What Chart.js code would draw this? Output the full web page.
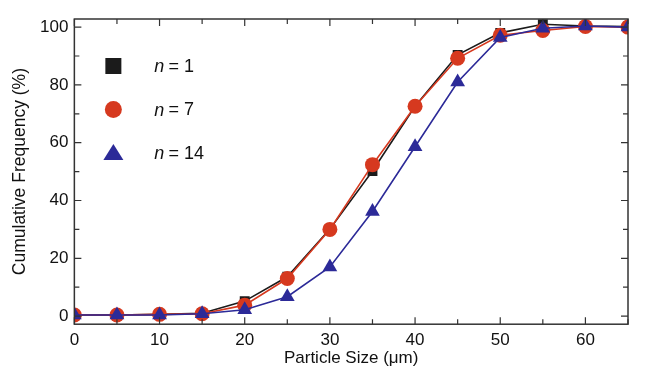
<!DOCTYPE html>
<html><head><meta charset="utf-8">
<script src="https://cdn.jsdelivr.net/npm/chart.js@4/dist/chart.umd.min.js"></script>
<style>html,body{margin:0;padding:0;background:#fff}#wrap{width:654px;height:380px}</style>
</head><body><div id="wrap"><canvas id="c" width="654" height="380"></canvas></div>
<script>
const sizes = [0,5,10,15,20,25,30,35,40,45,50,55,60,65];
const n1  = [0.4,0.4,0.6,1.0,5.2,13.6,30.1,50.2,72.6,90.4,98.0,101.0,100.4,100.2];
const n7  = [0.4,0.4,0.6,0.8,3.8,13.0,30.0,52.4,72.6,89.2,97.2,98.8,100.2,100.0];
const n14 = [0.4,0.4,0.4,0.8,2.2,6.7,17.0,36.2,58.6,81.0,96.4,99.6,100.4,100.0];
const labels = ['1','7','14'];
const yTicks = [0,20,40,60,80,100];
const xTicks = [0,10,20,30,40,50,60];

const colBlack = '#1b1b1b', colRed = '#d6391f', colBlue = '#2c2a98';
const FONT = '"Liberation Sans", Arial, Helvetica, sans-serif';

function mk(label, data, color, style, radius, order){
  return {label, data: sizes.map((x,i)=>({x, y:data[i]})), borderColor: color, backgroundColor: color,
    pointStyle: style, pointRadius: radius, pointHoverRadius: radius, borderWidth: 1.6,
    pointBorderWidth: 0, tension: 0, order};
}

const frame = {
  id:'frame',
  afterDraw(chart){
    const {ctx, chartArea:a, scales:{x,y}} = chart;
    ctx.save();
    ctx.strokeStyle = '#333'; ctx.lineWidth = 1.5;
    ctx.strokeRect(a.left, a.top, a.right-a.left, a.bottom-a.top);
    ctx.lineWidth = 1.2;
    for (let v=0; v<=65; v+=5){
      const px = x.getPixelForValue(v); const L = (v%10===0)?7:5;
      ctx.beginPath(); ctx.moveTo(px,a.bottom); ctx.lineTo(px,a.bottom-L);
      ctx.moveTo(px,a.top); ctx.lineTo(px,a.top+L); ctx.stroke();
    }
    for (let v=0; v<=100; v+=10){
      const py = y.getPixelForValue(v); const L = (v%20===0)?7:5;
      ctx.beginPath(); ctx.moveTo(a.left,py); ctx.lineTo(a.left+L,py);
      ctx.moveTo(a.right,py); ctx.lineTo(a.right-L,py); ctx.stroke();
    }
    // legend
    const lx = a.left + 39, ly0 = a.top + 47, dy = 43.5;
    const cols = [colBlack, colRed, colBlue];
    cols.forEach((c,i)=>{
      const cy = ly0 + i*dy;
      ctx.fillStyle = c;
      if (i===0){ ctx.fillRect(lx-8, cy-8, 16, 16); }
      else if (i===1){ ctx.beginPath(); ctx.arc(lx, cy, 8.5, 0, Math.PI*2); ctx.fill(); }
      else { ctx.beginPath(); ctx.moveTo(lx, cy-9); ctx.lineTo(lx+10, cy+7); ctx.lineTo(lx-10, cy+7); ctx.closePath(); ctx.fill(); }
      ctx.fillStyle = '#111'; ctx.textBaseline = 'middle'; ctx.textAlign = 'left';
      ctx.font = 'italic 18px ' + FONT;
      const tx = lx + 41;
      ctx.fillText('n', tx, cy+1);
      ctx.font = '18px ' + FONT;
      ctx.fillText(' = ' + labels[i], tx + ctx.measureText('n').width - 1, cy+1);
    });
    ctx.restore();
  }
};

new Chart(document.getElementById('c'), {
  type:'line',
  data:{ datasets:[
    mk('n = 1', n1, colBlack, 'rect', 7, 2),
    mk('n = 7', n7, colRed, 'circle', 7.5, 1),
    mk('n = 14', n14, colBlue, 'triangle', 8.5, 0)
  ]},
  options:{
    responsive:false, animation:false, devicePixelRatio:1,
    layout:{padding:{top:19, right:26, bottom:11, left:10}},
    plugins:{legend:{display:false}, tooltip:{enabled:false}},
    scales:{
      x:{type:'linear', min:0, max:65,
        afterBuildTicks(s){ s.ticks = xTicks.map(v=>({value:v})); },
        grid:{display:false, drawTicks:false}, border:{display:false},
        ticks:{color:'#111', font:{family:FONT, size:17}, padding:6, maxRotation:0},
        title:{display:true, text:'Particle Size (μm)', color:'#111', font:{family:FONT, size:17}, padding:{top:-8, bottom:0}}
      },
      y:{type:'linear', min:-2.8, max:102.8,
        afterBuildTicks(s){ s.ticks = yTicks.map(v=>({value:v})); },
        grid:{display:false, drawTicks:false}, border:{display:false},
        ticks:{color:'#111', font:{family:FONT, size:17}, padding:6},
        title:{display:true, text:'Cumulative Frequency (%)', color:'#111', font:{family:FONT, size:17.5}, padding:{top:0, bottom:3}}
      }
    }
  },
  plugins:[frame]
});
</script></body></html>
